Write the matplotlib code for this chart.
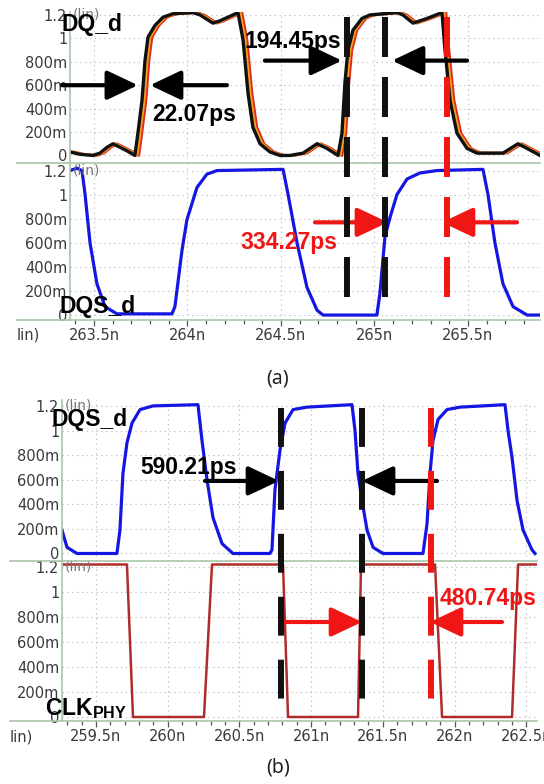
import matplotlib
matplotlib.use("Agg")
import matplotlib.pyplot as plt
from matplotlib.lines import Line2D
from matplotlib.ticker import MultipleLocator, FuncFormatter, FixedLocator
from matplotlib.transforms import blended_transform_factory

# ---- data (time in ns, voltage in V) ----
# (a) DQ_d, black trace; orange / red traces are the same edges with skew
DQ_T = [263.372, 263.425, 263.495, 263.532, 263.570, 263.602, 263.639, 263.676,
        263.719, 263.735, 263.757, 263.773, 263.789, 263.826, 263.869, 263.922,
        264.029, 264.067, 264.136, 264.174, 264.243, 264.270, 264.297, 264.324,
        264.350, 264.388, 264.441, 264.495, 264.548, 264.618, 264.693, 264.746,
        264.805, 264.826, 264.842, 264.858, 264.885, 264.933, 264.976, 265.120,
        265.152, 265.206, 265.281, 265.361, 265.377, 265.404, 265.441, 265.495,
        265.548, 265.687, 265.767, 265.816, 265.885]
DQ_V = [0.03, 0.01, 0.00, 0.02, 0.07, 0.10, 0.07, 0.04,
        0.00, 0.19, 0.47, 0.81, 1.01, 1.11, 1.18, 1.21,
        1.22, 1.20, 1.13, 1.15, 1.20, 1.22, 0.99, 0.53,
        0.24, 0.10, 0.03, 0.00, 0.00, 0.02, 0.10, 0.06,
        0.00, 0.19, 0.62, 0.90, 1.07, 1.17, 1.20, 1.22,
        1.20, 1.13, 1.17, 1.22, 0.90, 0.47, 0.19, 0.06,
        0.02, 0.02, 0.10, 0.06, 0.00]
DQ_SKEW_NS = [0.021, 0.011]          # red, orange lag behind black
DQ_SKEW_COLORS = ["#e02a1e", "#f2a21e"]

# (a) DQS_d
DQS_A_T = [263.372, 263.409, 263.436, 263.452, 263.479, 263.516, 263.559, 263.623,
           263.917, 263.933, 263.971, 263.997, 264.051, 264.104, 264.158, 264.511,
           264.537, 264.586, 264.639, 264.693, 264.725, 265.013, 265.029, 265.056,
           265.083, 265.120, 265.174, 265.243, 265.334, 265.580, 265.607, 265.644,
           265.687, 265.741, 265.816, 265.885]
DQS_A_V = [1.20, 1.22, 1.20, 1.01, 0.60, 0.26, 0.07, 0.01,
           0.01, 0.07, 0.54, 0.79, 1.06, 1.17, 1.20, 1.21,
           1.01, 0.60, 0.23, 0.04, 0.00, 0.00, 0.18, 0.65,
           0.81, 1.00, 1.13, 1.18, 1.20, 1.21, 1.00, 0.60,
           0.26, 0.07, 0.00, 0.00]

# (b) DQS_d
DQS_B_T = [259.263, 259.298, 259.368, 259.646, 259.667, 259.688, 259.716, 259.751,
           259.807, 259.897, 260.211, 260.239, 260.274, 260.316, 260.379, 260.455,
           260.713, 260.727, 260.748, 260.783, 260.818, 260.874, 260.971, 261.285,
           261.306, 261.327, 261.355, 261.390, 261.432, 261.501, 261.780, 261.808,
           261.829, 261.850, 261.885, 261.948, 262.038, 262.352, 262.373, 262.401,
           262.436, 262.478, 262.540, 262.561]
DQS_B_V = [0.19, 0.05, 0.00, 0.00, 0.19, 0.65, 0.90, 1.06,
           1.17, 1.20, 1.21, 0.92, 0.60, 0.29, 0.08, 0.00,
           0.00, 0.03, 0.52, 0.84, 1.06, 1.17, 1.19, 1.21,
           1.00, 0.65, 0.43, 0.19, 0.05, 0.00, 0.00, 0.24,
           0.65, 0.92, 1.09, 1.17, 1.19, 1.21, 1.00, 0.78,
           0.43, 0.19, 0.03, 0.00]

# (b) CLK_PHY
CLK_T = [259.263, 259.716, 259.758, 260.253, 260.309, 260.804, 260.839, 261.327,
         261.348, 261.864, 261.913, 262.401, 262.443, 262.575]
CLK_V = [1.22, 1.22, 0.00, 0.00, 1.22, 1.22, 0.00, 0.00,
         1.22, 1.22, 0.00, 0.00, 1.22, 1.22]

# cursor times (ns)
A_BLACK_CURSORS = [264.853, 265.056]
A_RED_CURSOR = 265.388
B_BLACK_CURSORS = [260.790, 261.355]
B_RED_CURSOR = 261.836

Y_TICKS = [0, 0.2, 0.4, 0.6, 0.8, 1.0, 1.2]
Y_LABELS = ["0", "200m", "400m", "600m", "800m", "1", "1.2"]

# ---- styling ----
W, H = 544, 784
GREEN = "#a9c6a9"
TXT = "#3a3a3a"
BLUE = "#1616e2"
CLK_RED = "#b02c2c"
ANN_RED = "#f01616"
BOLD = dict(family=["Liberation Sans", "DejaVu Sans"], fontweight="bold", fontsize=16.5)

plt.rcParams["lines.scale_dashes"] = False
plt.rcParams["mathtext.fontset"] = "custom"
plt.rcParams["mathtext.bf"] = "Liberation Sans:bold"
plt.rcParams["mathtext.rm"] = "Liberation Sans"

fig = plt.figure(figsize=(W / 100, H / 100), dpi=100)


def axes_px(left, top, right, bottom):
    return fig.add_axes([left / W, 1 - bottom / H, (right - left) / W, (bottom - top) / H])


def style(ax, xlim, ylim, show_x):
    ax.set_xlim(*xlim)
    ax.set_ylim(*ylim)
    ax.set_facecolor("none")
    for s in ("top", "right", "bottom"):
        ax.spines[s].set_visible(False)
    ax.spines["left"].set_color(GREEN)
    ax.spines["left"].set_linewidth(1.2)
    ax.yaxis.set_major_locator(FixedLocator(Y_TICKS))
    ax.set_yticklabels(Y_LABELS)
    ax.tick_params(axis="y", length=0, pad=2, labelsize=10.5, labelcolor=TXT)
    ax.xaxis.set_major_locator(MultipleLocator(0.5))
    ax.grid(True, color="#c2c2c2", lw=0.8, ls=(0, (1, 2.5)))
    if show_x:
        ax.xaxis.set_minor_locator(MultipleLocator(0.1))
        ax.xaxis.set_major_formatter(FuncFormatter(lambda v, p: f"{v:g}n"))
        ax.tick_params(axis="x", which="major", length=4, width=0.9, color="#555555",
                       pad=2, labelsize=10.5, labelcolor=TXT)
        ax.tick_params(axis="x", which="minor", length=3, width=0.9, color="#555555")
    else:
        ax.tick_params(axis="x", length=0, labelbottom=False)
    tr = blended_transform_factory(ax.transAxes, ax.transData)
    ax.text(0.005, 1.2, "(lin)", transform=tr, fontsize=10, color="#777777", va="center")


def hline(y, x0, x1):
    fig.add_artist(Line2D([x0 / W, x1 / W], [1 - y / H, 1 - y / H], color=GREEN, lw=1.2))


def cursor(ax, t, top, bot, color, dashes):
    tr = blended_transform_factory(ax.transData, fig.transFigure)
    fig.add_artist(Line2D([t, t], [1 - top / H, 1 - bot / H], transform=tr, color=color,
                          lw=4.3, dashes=dashes, dash_capstyle="butt"))


def arrow(ax, tail, tip, color):
    ax.annotate("", xy=tip, xytext=tail, annotation_clip=False,
                arrowprops=dict(arrowstyle="-|>,head_length=0.95,head_width=0.45",
                                mutation_scale=20, lw=3, color=color,
                                shrinkA=0, shrinkB=0))


# ---------------- panel (a) ----------------
xa = (263.372, 265.885)
ax1 = axes_px(70, 12, 540, 162.5)
ax2 = axes_px(70, 162.5, 540, 320)
style(ax1, xa, (-0.06, 1.225), False)
style(ax2, xa, (-0.041, 1.267), True)

for skew, c in zip(DQ_SKEW_NS, DQ_SKEW_COLORS):
    ax1.plot([t + skew for t in DQ_T], DQ_V, color=c, lw=2.0)
ax1.plot(DQ_T, DQ_V, color="#111111", lw=2.4)
ax2.plot(DQS_A_T, DQS_A_V, color=BLUE, lw=2.3)

ax1.text(263.329, 1.12, "DQ_d", va="center", **BOLD)
arrow(ax1, (263.329, 0.60), (263.735, 0.60), "black")
arrow(ax1, (264.211, 0.60), (263.800, 0.60), "black")
ax1.text(263.81, 0.35, "22.07ps", va="center", **BOLD)
ax1.text(264.305, 0.97, "194.45ps", va="center", **BOLD)
arrow(ax1, (264.414, 0.81), (264.826, 0.81), "black")
arrow(ax1, (265.495, 0.81), (265.094, 0.81), "black")

arrow(ax2, (264.682, 0.77), (265.072, 0.77), ANN_RED)
arrow(ax2, (265.762, 0.77), (265.361, 0.77), ANN_RED)
ax2.text(264.281, 0.60, "334.27ps", va="center", color=ANN_RED, **BOLD)
ax2.text(263.318, 0.07, "DQS_d", va="center", **BOLD)

hline(162.5, 17, 540)
hline(320, 17, 540)
for t in A_BLACK_CURSORS:
    cursor(ax1, t, 17, 300, "#111111", (28.8, 14.4))
cursor(ax1, A_RED_CURSOR, 17, 300, ANN_RED, (28.8, 14.4))
fig.text(17 / W, 1 - 335 / H, "lin)", fontsize=10.5, color=TXT, va="center")
fig.text(278 / W, 1 - 378 / H, "(a)", fontsize=14, color="#222222",
         family="Noto Sans", ha="center", va="center")

# ---------------- panel (b) ----------------
xb = (259.263, 262.575)
ax3 = axes_px(62, 400, 537, 561)
ax4 = axes_px(62, 561, 537, 721)
style(ax3, xb, (-0.061, 1.248), False)
style(ax4, xb, (-0.032, 1.248), True)

ax3.plot(DQS_B_T, DQS_B_V, color=BLUE, lw=2.3)
ax4.plot(CLK_T, CLK_V, color=CLK_RED, lw=1.8)

ax3.text(259.193, 1.09, "DQS_d", va="center", **BOLD)
ax3.text(259.807, 0.70, "590.21ps", va="center", **BOLD)
arrow(ax3, (260.260, 0.59), (260.776, 0.59), "black")
arrow(ax3, (261.878, 0.59), (261.355, 0.59), "black")

ax4.text(261.899, 0.95, "480.74ps", va="center", color=ANN_RED, **BOLD)
arrow(ax4, (260.818, 0.76), (261.355, 0.76), ANN_RED)
arrow(ax4, (262.331, 0.76), (261.829, 0.76), ANN_RED)
ax4.text(259.144, 0.07, r"$\mathbf{CLK}_{\mathbf{PHY}}$", va="center", **BOLD)

hline(561, 10, 537)
hline(721, 10, 537)
for t in B_BLACK_CURSORS:
    cursor(ax3, t, 408, 700, "#111111", (28, 17.3))
cursor(ax3, B_RED_CURSOR, 408, 700, ANN_RED, (28, 17.3))
fig.text(10 / W, 1 - 737 / H, "lin)", fontsize=10.5, color=TXT, va="center")
fig.text(278 / W, 1 - 768 / H, "(b)", fontsize=14, color="#222222",
         family="Noto Sans", ha="center", va="center")

fig.savefig("out.png", dpi=100, facecolor="white")
